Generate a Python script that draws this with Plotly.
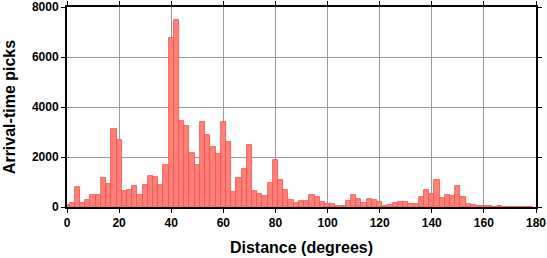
import plotly.graph_objects as go

# Bin centres (degrees), bins are 2 degrees wide
centers = list(range(0, 180, 2))
counts = [100, 170, 810, 175, 295, 495, 495, 1175, 935, 3130,
          2690, 630, 665, 855, 500, 895, 1255, 1200, 880, 1680,
          6760, 7490, 3440, 3240, 2160, 1695, 3400, 2880, 2400, 2130,
          3410, 2610, 615, 1175, 1530, 2480, 655, 535, 455, 960,
          1890, 1095, 695, 295, 165, 240, 255, 495, 415, 215,
          107, 107, 55, 55, 227, 493, 333, 160, 330, 293,
          213, 55, 93, 160, 187, 213, 133, 133, 413, 693,
          525, 1080, 355, 490, 453, 853, 413, 133, 93, 53,
          53, 53, 15, 53, 15, 5, 5, 5, 5, 5]

x_ticks = [0, 20, 40, 60, 80, 100, 120, 140, 160, 180]
y_ticks = [0, 2000, 4000, 6000, 8000]

fig = go.Figure()
fig.add_trace(go.Bar(
    x=centers, y=counts, width=2,
    marker=dict(color="#FF8078", line=dict(color="#F2504A", width=0.8)),
))

font_family = "Liberation Sans, Arial, sans-serif"
fig.update_layout(
    width=547, height=258,
    margin=dict(l=67, r=11, t=7, b=51),
    paper_bgcolor="white", plot_bgcolor="white",
    showlegend=False, bargap=0,
    font=dict(family=font_family, color="black"),
)
fig.update_xaxes(
    range=[0, 180], tickvals=x_ticks, ticktext=[str(v) for v in x_ticks],
    automargin=False, ticklabeloverflow="allow",
    showgrid=True, gridcolor="#999999", gridwidth=1,
    showline=True, linecolor="black", linewidth=2, mirror="ticks",
    ticks="outside", ticklen=4, tickcolor="black", tickwidth=1,
    tickfont=dict(size=12, family=font_family, weight="bold"),
    title=dict(text="Distance (degrees)", font=dict(size=16, weight="bold"), standoff=12),
    zeroline=False,
)
fig.update_yaxes(
    range=[0, 8000], tickvals=y_ticks, ticktext=[str(v) for v in y_ticks],
    automargin=False, ticklabeloverflow="allow",
    showgrid=True, gridcolor="#999999", gridwidth=1,
    showline=True, linecolor="black", linewidth=2, mirror="ticks",
    ticks="outside", ticklen=4, tickcolor="black", tickwidth=1,
    tickfont=dict(size=12, family=font_family, weight="bold"),
    title=dict(text="Arrival-time picks", font=dict(size=16, weight="bold"), standoff=12),
    zeroline=False,
)
fig.write_html("out.html")
